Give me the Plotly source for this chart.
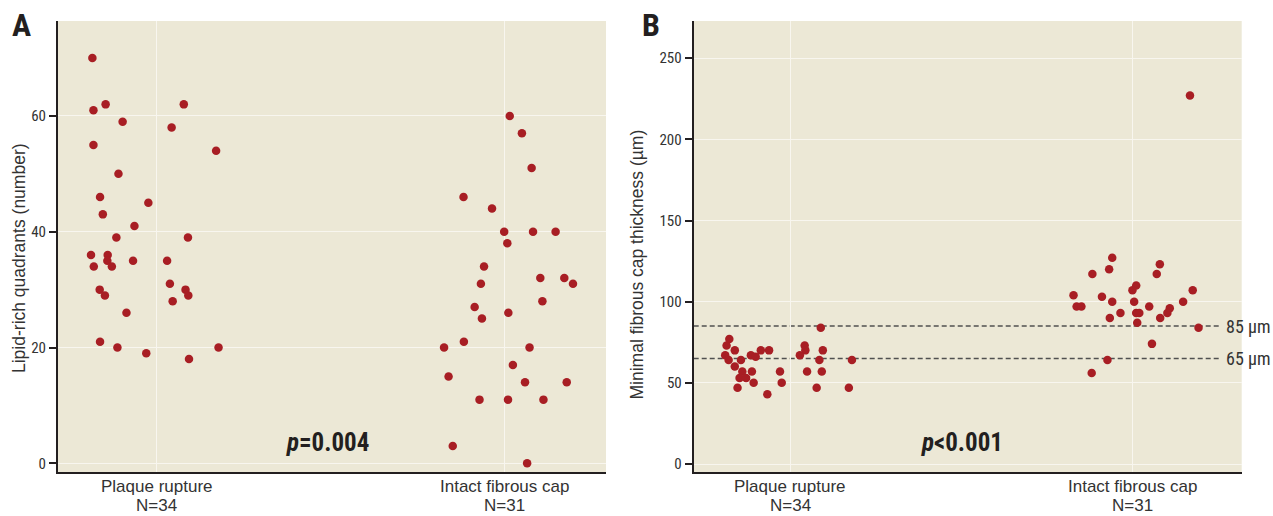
import plotly.graph_objects as go

# ---------------- data ----------------
categories = ["Plaque rupture", "Intact fibrous cap"]
n_labels = ["N=34", "N=31"]

# Panel A: lipid-rich quadrants (number)
a_rupture_vals = [70, 61, 62, 62, 59, 58, 55, 54, 50, 46, 45, 43, 41, 39, 39,
                  36, 36, 34, 35, 34, 35, 35, 31, 30, 29, 30, 29, 28, 26, 21,
                  20, 20, 19, 18]
a_rupture_jitter = [-0.185, -0.182, -0.147, 0.078, -0.098, 0.043, -0.182, 0.171,
                    -0.110, -0.163, -0.024, -0.155, -0.064, -0.116, 0.090,
                    -0.189, -0.141, -0.181, -0.142, -0.129, -0.068, 0.030, 0.038,
                    -0.164, -0.149, 0.083, 0.091, 0.046, -0.087, -0.163, -0.113,
                    0.178, -0.030, 0.093]
a_intact_vals = [60, 57, 51, 46, 44, 40, 40, 40, 38, 34, 32, 32, 31, 31, 28, 27,
                 26, 25, 20, 21, 20, 17, 15, 14, 14, 11, 11, 11, 3, 0]
a_intact_jitter = [0.016, 0.051, 0.079, -0.117, -0.035, 0.000, 0.083, 0.148,
                   0.009, -0.058, 0.104, 0.173, 0.198, -0.067, 0.110, -0.085,
                   0.012, -0.064, -0.173, -0.116, 0.073, 0.025, -0.160, 0.060,
                   0.180, -0.071, 0.011, 0.113, -0.148, 0.066]

# Panel B: minimal fibrous cap thickness (um)
b_rupture_vals = [84, 77, 73, 70, 67, 64, 60, 64, 67, 66, 70, 70, 57, 53, 53, 57,
                  50, 47, 43, 57, 50, 73, 70, 67, 70, 64, 57, 57, 47, 64, 47]
b_rupture_jitter = [0.089, -0.178, -0.186, -0.162, -0.190, -0.180, -0.162, -0.144,
                    -0.115, -0.101, -0.086, -0.062, -0.140, -0.148, -0.129, -0.112,
                    -0.107, -0.154, -0.067, -0.030, -0.025, 0.042, 0.044, 0.028,
                    0.095, 0.085, 0.049, 0.092, 0.077, 0.180, 0.171]
b_intact_vals = [227, 127, 123, 120, 117, 117, 110, 107, 107, 104, 103, 100, 100,
                 100, 97, 97, 93, 93, 93, 97, 96, 93, 90, 90, 87, 84, 74, 64, 56]
b_intact_jitter = [0.167, -0.060, 0.079, -0.069, -0.118, 0.070, 0.010, -0.001,
                   0.175, -0.173, -0.090, -0.060, 0.004, 0.147, -0.164, -0.150,
                   -0.036, 0.010, 0.019, 0.048, 0.108, 0.101, -0.067, 0.080, 0.013,
                   0.192, 0.056, -0.074, -0.120]

a_yticks = [0, 20, 40, 60]
b_yticks = [0, 50, 100, 150, 200, 250]
thresholds = [85, 65]
threshold_labels = ["85 µm", "65 µm"]
p_texts = ["<b><i>p</i>=0.004</b>", "<b><i>p</i>&lt;0.001</b>"]
panel_letters = ["A", "B"]
y_titles = ["Lipid-rich quadrants (number)", "Minimal fibrous cap thickness (µm)"]

# ---------------- style ----------------
W, H = 1273, 516
BG = "#ECE8D6"
DOT = "#A81E24"
DARK = "#231F20"
TXT = "#333333"
GRID = "#F8F6EF"
NARROW = "Liberation Sans Narrow, Roboto Condensed, DejaVu Sans Condensed, sans-serif"
REG = "Liberation Sans, Arial, sans-serif"


def px(x):
    return x / W


def py(y):
    return 1 - y / H


fig = go.Figure()


def strip(cat_index, vals, jit, xa, ya):
    fig.add_trace(go.Scatter(
        x=[cat_index + j for j in jit], y=vals, mode="markers",
        marker=dict(color=DOT, size=8.5, line=dict(width=0)),
        xaxis=xa, yaxis=ya, showlegend=False, hoverinfo="y"))


strip(0, a_rupture_vals, a_rupture_jitter, "x", "y")
strip(1, a_intact_vals, a_intact_jitter, "x", "y")
strip(0, b_rupture_vals, b_rupture_jitter, "x2", "y2")
strip(1, b_intact_vals, b_intact_jitter, "x2", "y2")

xcommon = dict(tickvals=[0, 1], showticklabels=False, showgrid=True, gridcolor=GRID,
               gridwidth=1.2, zeroline=False, showline=True, linecolor=DARK,
               linewidth=2, ticks="", automargin=False, fixedrange=True)
ycommon = dict(showgrid=True, gridcolor=GRID, gridwidth=1.2, zeroline=False,
               showline=True, linecolor=DARK, linewidth=2, ticks="outside",
               ticklen=7, tickwidth=1.5, tickcolor=DARK,
               tickfont=dict(family=NARROW, size=15, color=TXT), automargin=False,
               fixedrange=True)

ydom = [py(472), py(21)]
fig.update_layout(
    width=W, height=H, margin=dict(l=0, r=0, t=0, b=0),
    paper_bgcolor="white", plot_bgcolor=BG, showlegend=False,
    xaxis=dict(domain=[px(58), px(606)], range=[-0.284, 1.293], anchor="y", **xcommon),
    yaxis=dict(domain=ydom, range=[-1.5, 76.4], tickvals=a_yticks, anchor="x", **ycommon),
    xaxis2=dict(domain=[px(693.7), px(1241.7)], range=[-0.282, 1.318], anchor="y2", **xcommon),
    yaxis2=dict(domain=ydom, range=[-4.93, 272.9], tickvals=b_yticks, anchor="x2", **ycommon),
)

# category labels (two lines each, placed below the axis)
for xref in ["x", "x2"]:
    for i, (c, n) in enumerate(zip(categories, n_labels)):
        fig.add_annotation(text=c, xref=xref, yref="paper", x=i, y=py(486.5),
                           xanchor="center", yanchor="middle", showarrow=False,
                           font=dict(family=REG, size=17, color=TXT))
        fig.add_annotation(text=n, xref=xref, yref="paper", x=i, y=py(505.5),
                           xanchor="center", yanchor="middle", showarrow=False,
                           font=dict(family=REG, size=17, color=TXT))

# threshold dashed lines
for t, lab in zip(thresholds, threshold_labels):
    fig.add_shape(type="line", xref="x2", yref="y2", x0=-0.282, x1=1.252, y0=t, y1=t,
                  line=dict(color="#505050", width=1.3, dash="5px,3px"), layer="below")
    fig.add_annotation(text=lab, xref="paper", yref="y2", x=px(1224), y=t,
                       xanchor="left", yanchor="middle", showarrow=False,
                       font=dict(family=NARROW, size=18, color=TXT))

# panel letters
for letter, (lx, ly) in zip(panel_letters, [(22, 25.5), (651, 25.5)]):
    fig.add_annotation(text=f"<b>{letter}</b>", xref="paper", yref="paper",
                       x=px(lx), y=py(ly), xanchor="center", yanchor="middle",
                       showarrow=False, font=dict(family=NARROW, size=32, color=DARK))

# p values
for txt, (lx, ly) in zip(p_texts, [(327, 442), (961.7, 442)]):
    fig.add_annotation(text=txt, xref="paper", yref="paper", x=px(lx), y=py(ly),
                       xanchor="center", yanchor="middle", showarrow=False,
                       font=dict(family=NARROW, size=25, color=DARK))

# y axis titles
for txt, (lx, ly) in zip(y_titles, [(19, 258), (636, 264.5)]):
    fig.add_annotation(text=txt, xref="paper", yref="paper", x=px(lx), y=py(ly),
                       xanchor="center", yanchor="middle", textangle=-90,
                       showarrow=False, font=dict(family=REG, size=17.5, color=TXT))

fig.write_html("out.html", config={"displayModeBar": False},
               post_script="document.body.style.margin='0px';document.body.style.overflow='hidden';")
